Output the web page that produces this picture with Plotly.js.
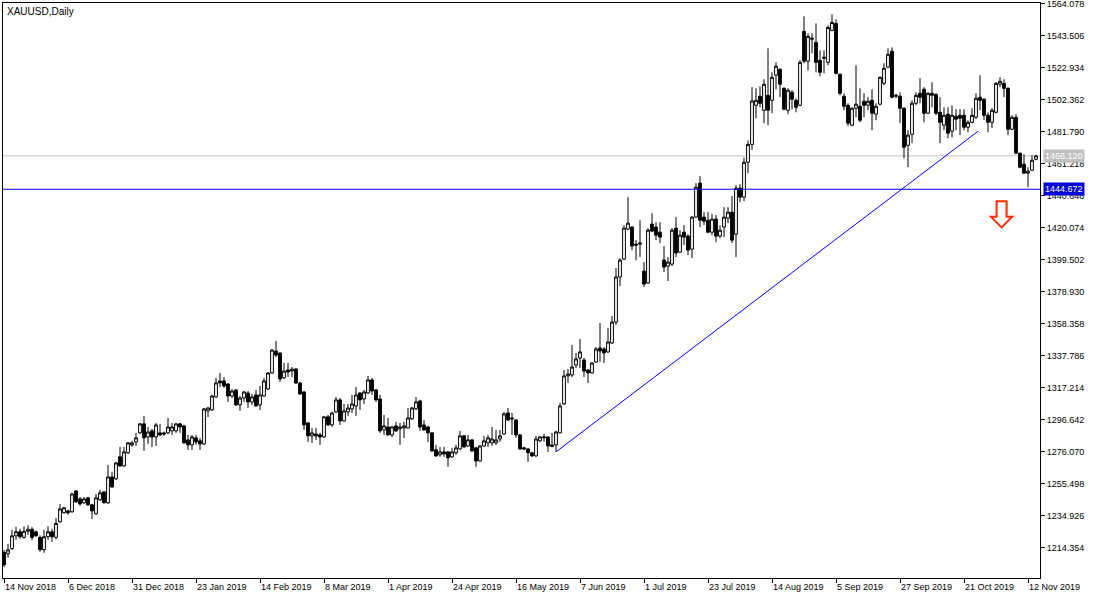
<!DOCTYPE html>
<html>
<head>
<meta charset="utf-8">
<script src="https://cdn.plot.ly/plotly-3.0.1.min.js"></script>
<style>html,body{margin:0;padding:0;background:#fff;}#chart{width:1100px;height:600px;}</style>
</head>
<body>
<div id="chart"></div>
<script>
// Daily XAUUSD candles, 14 Nov 2018 .. 14 Nov 2019 (bar index 0..258)
const opens = [
1211.5,1210.6,1213.8,1222.1,1224.7,1221.1,1225.0,1226.3,1224.7,1221.1,
1213.2,1221.5,1224.7,1221.1,1231.1,1236.9,1238.1,1237.5,1250.9,1245.8,
1243.3,1246.5,1242.0,1236.2,1245.2,1250.3,1243.3,1259.9,1258.7,1272.8,
1267.0,1275.4,1280.5,1282.4,1288.2,1294.0,1285.6,1289.5,1285.6,1288.2,
1288.2,1288.2,1289.5,1289.5,1294.0,1292.7,1283.7,1280.5,1285.0,1283.1,
1281.1,1302.3,1303.0,1311.3,1321.6,1321.6,1319.6,1311.9,1315.8,1306.2,
1310.6,1313.8,1308.1,1312.6,1306.2,1311.9,1316.4,1326.7,1340.8,1339.5,
1323.5,1328.6,1327.9,1329.2,1320.3,1314.5,1294.6,1286.3,1287.5,1286.9,
1285.6,1298.5,1293.3,1301.7,1309.4,1295.9,1301.7,1303.6,1305.5,1313.8,
1310.0,1313.8,1322.2,1315.8,1310.0,1290.1,1292.0,1286.9,1292.7,1290.8,
1291.4,1291.4,1297.2,1303.6,1308.7,1293.3,1292.0,1288.2,1277.3,1274.1,
1276.0,1276.0,1272.8,1275.4,1277.9,1286.3,1279.8,1283.7,1278.6,1270.2,
1279.8,1281.8,1281.8,1281.8,1284.3,1287.5,1301.0,1297.8,1296.5,1286.9,
1278.6,1277.9,1275.4,1273.4,1283.1,1285.0,1285.6,1280.5,1280.5,1288.2,
1306.8,1324.8,1325.4,1331.8,1336.3,1335.0,1328.6,1326.7,1333.7,1342.7,
1342.1,1340.2,1345.9,1359.4,1388.3,1399.8,1419.1,1420.4,1409.4,1409.4,
1392.1,1384.4,1422.3,1420.4,1417.1,1399.2,1395.3,1396.6,1419.7,1404.3,
1417.1,1414.6,1406.2,1426.8,1448.6,1426.8,1424.8,1417.1,1425.5,1414.6,
1420.4,1426.1,1430.0,1415.8,1445.4,1439.6,1462.0,1473.5,1498.6,1504.4,
1495.4,1505.0,1501.8,1517.9,1521.7,1509.5,1495.4,1507.0,1501.8,1498.6,
1546.1,1526.9,1541.0,1539.0,1527.5,1528.8,1526.2,1546.7,1551.2,1518.5,
1504.4,1498.6,1485.8,1496.7,1498.0,1501.2,1498.6,1501.8,1492.9,1499.3,
1512.7,1523.1,1533.3,1504.4,1504.4,1496.7,1472.9,1480.0,1499.9,1506.3,
1508.9,1493.5,1506.3,1505.6,1494.1,1485.8,1492.9,1482.0,1491.6,1492.2,
1492.2,1484.5,1487.7,1490.9,1503.8,1502.5,1492.2,1487.7,1494.1,1512.1,
1512.7,1509.5,1483.2,1490.9,1467.8,1460.8,1455.0,1456.9,1463.9
];
const highs = [
1213.0,1216.9,1226.0,1227.9,1226.6,1228.2,1228.9,1227.6,1225.4,1222.4,
1226.0,1228.2,1226.6,1233.6,1242.6,1240.7,1238.8,1249.7,1251.5,1247.1,
1247.1,1247.1,1242.6,1249.0,1251.6,1250.9,1267.6,1263.2,1269.6,1279.2,
1279.2,1282.4,1283.1,1288.2,1294.6,1299.1,1292.0,1290.8,1294.6,1294.0,
1289.0,1297.8,1294.6,1294.6,1294.6,1293.3,1286.9,1286.9,1286.9,1285.0,
1304.2,1304.9,1312.6,1323.5,1326.7,1324.1,1320.2,1316.4,1316.4,1311.9,
1315.1,1315.1,1313.2,1315.8,1318.3,1323.5,1327.3,1342.1,1347.2,1340.0,
1333.1,1333.1,1330.5,1329.9,1320.9,1315.1,1295.2,1291.4,1291.4,1288.2,
1299.1,1299.7,1301.7,1311.3,1310.6,1306.8,1306.8,1312.6,1317.7,1314.4,
1315.8,1324.8,1323.5,1316.4,1312.6,1299.7,1297.8,1292.7,1295.3,1294.6,
1295.3,1304.2,1304.9,1311.3,1309.4,1296.5,1292.7,1288.8,1280.5,1279.2,
1279.2,1276.6,1278.6,1280.5,1289.5,1286.9,1286.9,1284.3,1279.2,1280.5,
1286.3,1286.9,1292.0,1290.1,1290.1,1301.7,1304.2,1301.0,1297.2,1287.5,
1279.2,1278.6,1275.9,1286.3,1286.3,1287.5,1286.0,1288.2,1289.5,1307.4,
1328.6,1329.2,1344.6,1339.5,1348.5,1336.3,1329.2,1333.7,1343.3,1358.8,
1343.3,1355.6,1363.3,1394.1,1400.5,1421.6,1439.6,1421.0,1412.0,1424.8,
1397.9,1419.7,1429.3,1423.5,1423.5,1408.2,1401.1,1419.7,1426.8,1418.4,
1421.6,1415.8,1427.4,1448.6,1453.1,1430.0,1430.0,1428.7,1428.1,1421.6,
1433.2,1433.2,1440.3,1447.3,1447.9,1465.0,1476.0,1510.3,1509.5,1510.8,
1515.3,1535.2,1519.8,1526.2,1522.4,1510.2,1509.5,1508.3,1503.1,1527.5,
1555.7,1544.8,1544.8,1551.2,1533.9,1533.9,1549.9,1557.0,1553.8,1519.1,
1506.3,1499.9,1497.3,1524.3,1509.5,1506.3,1503.8,1508.9,1499.9,1517.2,
1525.6,1535.2,1535.8,1506.0,1507.0,1497.3,1482.6,1501.8,1507.0,1516.0,
1510.2,1506.9,1513.4,1506.3,1503.8,1497.3,1497.3,1498.6,1496.1,1496.1,
1496.1,1489.0,1496.7,1506.3,1517.9,1503.1,1494.1,1496.7,1513.4,1516.6,
1515.3,1510.2,1492.2,1492.9,1468.4,1467.1,1458.8,1466.5,1466.8
];
const lows = [
1202.0,1208.0,1213.1,1219.5,1220.2,1220.2,1222.6,1219.2,1221.5,1211.8,
1211.2,1219.5,1218.2,1219.8,1230.5,1236.3,1235.6,1237.0,1243.3,1241.4,
1242.6,1241.4,1233.0,1235.6,1244.6,1242.9,1242.6,1252.9,1258.0,1266.4,
1266.4,1274.7,1279.2,1279.8,1287.5,1276.6,1281.1,1279.2,1279.8,1286.3,
1286.3,1287.5,1286.9,1288.2,1288.2,1281.1,1277.3,1277.3,1280.5,1277.3,
1280.5,1298.4,1302.3,1310.6,1317.7,1317.1,1308.1,1310.6,1305.5,1302.3,
1308.1,1304.2,1306.2,1304.9,1302.9,1311.3,1315.8,1326.0,1336.9,1320.9,
1322.8,1324.1,1324.1,1319.6,1312.6,1290.1,1282.4,1281.8,1283.7,1280.5,
1285.0,1292.7,1292.0,1301.0,1293.3,1295.3,1299.1,1301.0,1299.1,1302.9,
1306.8,1313.2,1312.6,1308.1,1288.2,1286.9,1286.3,1285.6,1288.8,1280.5,
1284.9,1291.0,1296.5,1302.9,1289.5,1289.5,1282.4,1276.0,1272.8,1272.8,
1272.8,1266.4,1272.2,1274.1,1277.3,1278.6,1279.2,1276.0,1266.4,1269.6,
1279.2,1279.2,1279.8,1280.5,1282.4,1286.9,1295.9,1286.9,1285.0,1277.3,
1277.3,1269.6,1272.8,1272.8,1282.4,1282.4,1276.0,1279.0,1276.0,1288.0,
1306.2,1320.3,1324.1,1329.9,1329.9,1324.1,1320.3,1326.2,1333.1,1333.7,
1333.1,1339.5,1345.3,1357.5,1382.5,1399.2,1418.4,1405.6,1399.2,1401.1,
1381.9,1384.0,1417.1,1412.0,1410.1,1391.5,1385.7,1395.3,1401.1,1403.7,
1408.8,1402.4,1400.5,1426.1,1420.4,1421.6,1416.5,1415.2,1410.7,1413.3,
1413.9,1422.9,1410.1,1401.1,1436.4,1437.0,1455.0,1470.0,1490.3,1497.3,
1487.1,1485.8,1493.5,1508.9,1503.8,1495.4,1492.9,1496.1,1494.1,1498.0,
1525.6,1521.1,1532.0,1519.8,1517.2,1519.1,1524.3,1546.1,1518.5,1505.0,
1495.4,1485.2,1485.2,1490.9,1487.7,1490.9,1495.4,1482.6,1489.0,1498.6,
1511.5,1522.4,1503.1,1503.1,1487.1,1464.6,1458.9,1474.3,1498.6,1499.9,
1487.7,1492.9,1497.3,1492.2,1474.3,1482.6,1477.5,1478.0,1482.6,1479.4,
1482.6,1481.3,1487.1,1489.7,1495.4,1489.0,1481.3,1483.9,1493.5,1510.2,
1503.8,1479.4,1482.6,1467.2,1458.2,1454.5,1446.0,1456.3,1463.3
];
const closes = [
1203.5,1213.1,1222.1,1224.7,1221.5,1225.0,1226.3,1221.1,1222.1,1213.2,
1221.5,1224.7,1221.5,1230.1,1239.4,1240.1,1236.9,1249.0,1243.9,1242.6,
1245.8,1242.0,1238.1,1246.5,1249.7,1243.3,1259.9,1253.5,1268.9,1267.0,
1276.0,1281.8,1281.8,1285.0,1294.0,1285.0,1288.8,1285.6,1293.3,1286.9,
1287.5,1292.0,1292.0,1294.0,1292.0,1281.8,1280.5,1285.6,1282.4,1281.1,
1303.6,1304.2,1311.9,1320.3,1320.3,1318.3,1311.9,1315.1,1306.2,1310.6,
1314.5,1308.1,1311.3,1305.5,1312.6,1321.6,1326.7,1341.4,1338.2,1322.8,
1327.9,1327.3,1329.2,1320.3,1313.2,1293.3,1286.3,1288.2,1286.3,1285.6,
1298.5,1293.3,1301.0,1309.4,1295.9,1302.3,1304.2,1306.8,1312.6,1309.4,
1314.5,1322.2,1315.1,1309.4,1289.5,1292.7,1286.9,1292.0,1289.5,1292.0,
1292.7,1297.8,1304.2,1308.1,1292.0,1290.1,1288.2,1276.6,1273.4,1276.0,
1274.7,1272.2,1276.0,1278.6,1286.3,1279.2,1283.7,1276.6,1270.2,1279.8,
1283.1,1285.0,1284.3,1283.7,1286.3,1300.4,1296.5,1297.2,1286.9,1277.9,
1277.9,1275.4,1273.4,1284.3,1285.6,1285.6,1279.8,1279.5,1288.8,1305.5,
1324.8,1326.0,1330.5,1335.7,1340.2,1327.9,1326.7,1333.1,1342.1,1340.8,
1339.5,1346.6,1359.4,1388.3,1399.2,1419.7,1422.9,1408.2,1408.8,1410.1,
1383.8,1418.4,1417.8,1415.2,1413.9,1394.7,1397.9,1418.4,1403.7,1415.2,
1413.9,1405.6,1426.8,1446.0,1424.8,1424.2,1417.1,1425.5,1414.6,1418.4,
1426.8,1430.0,1412.0,1445.4,1439.6,1462.0,1473.5,1501.4,1501.8,1499.9,
1512.1,1495.4,1516.6,1523.7,1512.1,1496.1,1508.3,1502.5,1497.3,1526.2,
1526.9,1542.9,1541.6,1526.2,1519.8,1529.4,1548.6,1551.8,1519.1,1506.3,
1498.0,1487.1,1496.7,1499.3,1489.0,1498.6,1501.2,1493.5,1498.0,1516.6,
1522.4,1531.4,1503.8,1505.0,1496.7,1471.7,1479.4,1499.9,1505.0,1503.8,
1493.5,1506.3,1505.0,1493.5,1487.7,1492.2,1480.7,1492.2,1489.7,1490.3,
1484.5,1487.7,1492.2,1503.1,1501.8,1492.2,1487.7,1495.4,1512.7,1514.0,
1509.5,1483.2,1490.9,1467.8,1458.8,1455.0,1456.3,1463.3,1466.12
];

// Axis labels
const xTickIdx = [0,16,32,48,64,80,96,112,128,144,160,176,192,208,224,240,256];
const xTickLabels = ['14 Nov 2018','6 Dec 2018','31 Dec 2018','23 Jan 2019','14 Feb 2019','8 Mar 2019',
  '1 Apr 2019','24 Apr 2019','16 May 2019','7 Jun 2019','1 Jul 2019','23 Jul 2019','14 Aug 2019',
  '5 Sep 2019','27 Sep 2019','21 Oct 2019','12 Nov 2019'];
const yTickVals = [1214.354,1234.926,1255.498,1276.070,1296.642,1317.214,1337.786,1358.358,1378.930,
  1399.502,1420.074,1440.646,1461.218,1481.790,1502.362,1522.934,1543.506,1564.078];

// Chart objects
const levelPrice = 1444.672;          // horizontal line
const trendIdx = [138, 243.5];        // trend line (bar index)
const trendPrice = [1276.0, 1481.9];  // trend line (price)
const arrowIdx = 249.4;               // sell arrow anchor (tip)
const arrowPrice = 1420.2;

const idx = closes.map((_, i) => i);
const lastPrice = closes[closes.length - 1];

const font = 'Liberation Sans, Arial, sans-serif';

const trace = {
  type: 'candlestick',
  x: idx, open: opens, high: highs, low: lows, close: closes,
  increasing: {line: {color: '#000000', width: 1}, fillcolor: '#ffffff'},
  decreasing: {line: {color: '#000000', width: 1}, fillcolor: '#000000'},
  whiskerwidth: 0,
  hoverinfo: 'none',
  showlegend: false
};

const layout = {
  width: 1100, height: 600,
  margin: {l: 3, r: 60, t: 3, b: 22, pad: 0},
  paper_bgcolor: '#ffffff', plot_bgcolor: '#ffffff',
  boxgap: 0.3, boxgroupgap: 0,
  showlegend: false,
  xaxis: {
    range: [-0.25, 259], showgrid: false, zeroline: false,
    showline: true, mirror: true, linecolor: '#000', linewidth: 1,
    ticks: 'outside', ticklen: 4, tickcolor: '#000', tickwidth: 1,
    tickmode: 'array', tickvals: xTickIdx, ticktext: xTickLabels,
    ticklabelposition: 'outside right',
    tickfont: {family: font, size: 9, color: '#000'},
    rangeslider: {visible: false}, fixedrange: true
  },
  yaxis: {
    side: 'right', range: [1195.0, 1564.3], showgrid: false, zeroline: false,
    showline: true, mirror: true, linecolor: '#000', linewidth: 1,
    ticks: 'outside', ticklen: 4, tickcolor: '#000', tickwidth: 1,
    tickmode: 'array', tickvals: yTickVals, ticktext: yTickVals.map(v => v.toFixed(3)),
    ticklabeloverflow: 'allow',
    tickfont: {family: font, size: 9, color: '#000'}, fixedrange: true
  },
  shapes: [
    {type: 'line', xref: 'paper', yref: 'y', x0: 0, x1: 1, y0: lastPrice, y1: lastPrice,
     line: {color: '#c0c0c0', width: 1}, layer: 'below'},
    {type: 'line', xref: 'paper', yref: 'y', x0: 0, x1: 1, y0: levelPrice, y1: levelPrice,
     line: {color: '#0000dd', width: 1}},
    {type: 'line', xref: 'x', yref: 'y', x0: trendIdx[0], x1: trendIdx[1], y0: trendPrice[0], y1: trendPrice[1],
     line: {color: '#0000ff', width: 1}},
    {type: 'path', xref: 'x', yref: 'y', xsizemode: 'pixel', ysizemode: 'pixel',
     xanchor: arrowIdx, yanchor: arrowPrice,
     path: 'M -5,26 L 5,26 L 5,10.5 L 10.5,10.5 L 0,0 L -10.5,10.5 L -5,10.5 Z',
     line: {color: '#ff2a00', width: 2}, fillcolor: '#ffffff'}
  ],
  annotations: [
    {text: 'XAUUSD,Daily', xref: 'paper', yref: 'paper', x: 0, y: 1, xanchor: 'left', yanchor: 'top',
     xshift: 2, yshift: -1, showarrow: false, font: {family: font, size: 10, color: '#000'}},
    {text: lastPrice.toFixed(3), xref: 'paper', yref: 'y', x: 1, y: lastPrice, xanchor: 'left', yanchor: 'middle',
     xshift: 3, showarrow: false, bgcolor: '#c0c0c0', borderpad: 1,
     font: {family: font, size: 9, color: '#ffffff'}},
    {text: levelPrice.toFixed(3), xref: 'paper', yref: 'y', x: 1, y: levelPrice, xanchor: 'left', yanchor: 'middle',
     xshift: 3, showarrow: false, bgcolor: '#0000dd', borderpad: 1,
     font: {family: font, size: 9, color: '#ffffff'}}
  ]
};

Plotly.newPlot('chart', [trace], layout, {staticPlot: true, displayModeBar: false});
</script>
</body>
</html>
